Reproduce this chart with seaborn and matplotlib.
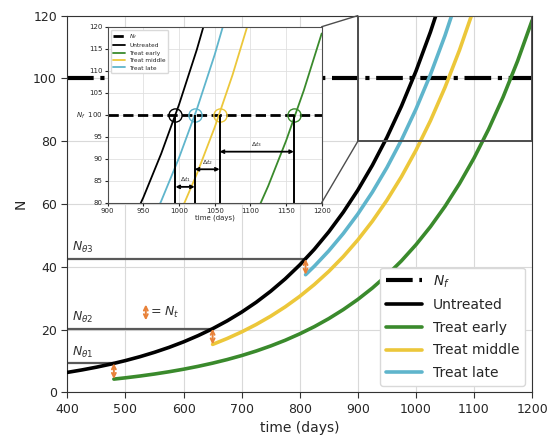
import numpy as np
import pandas as pd
import matplotlib
matplotlib.use("Agg")
import matplotlib.pyplot as plt
import seaborn as sns
from matplotlib.patches import Rectangle, ConnectionPatch

# ---------------- data ----------------
t_untreated = [400, 425, 450, 475, 500, 525, 550, 575, 600, 625, 650, 675, 700,
               725, 750, 775, 800, 825, 850, 875, 900, 925, 950, 975, 1000, 1025, 1050]
N_untreated = [6.40, 7.18, 8.06, 9.05, 10.16, 11.40, 12.80, 14.36, 16.12, 18.10, 20.31,
               22.80, 25.59, 28.72, 32.24, 36.18, 40.61, 45.58, 51.16, 57.42, 64.45,
               72.34, 81.20, 91.14, 102.29, 114.81, 128.87]

t_early = [480, 500, 525, 550, 575, 600, 625, 650, 675, 700, 725, 750, 775, 800, 825,
           850, 875, 900, 925, 950, 975, 1000, 1025, 1050, 1075, 1100, 1125, 1150, 1175, 1200]
N_early = [4.26, 4.67, 5.24, 5.88, 6.60, 7.41, 8.32, 9.34, 10.48, 11.76, 13.20, 14.82,
           16.63, 18.67, 20.95, 23.52, 26.40, 29.63, 33.26, 37.33, 41.90, 47.03, 52.79,
           59.25, 66.50, 74.64, 83.78, 94.03, 105.54, 118.46]

t_middle = [650, 675, 700, 725, 750, 775, 800, 825, 850, 875, 900, 925, 950, 975, 1000,
            1025, 1050, 1075, 1100]
N_middle = [15.31, 17.18, 19.29, 21.65, 24.30, 27.27, 30.61, 34.36, 38.56, 43.28, 48.58,
            54.53, 61.20, 68.69, 77.10, 86.54, 97.13, 109.02, 122.37]

t_late = [810, 825, 850, 875, 900, 925, 950, 975, 1000, 1025, 1050, 1075]
N_late = [37.5, 40.19, 45.11, 50.63, 56.83, 63.79, 71.60, 80.36, 90.20, 101.24, 113.63, 127.54]

N_f = 100
t_treat = [480, 650, 810]              # treatment times
N_theta = [9.3, 20.3, 42.5]            # thresholds at treatment
N_t = 5                                # cells removed by a treatment
theta_labels = [r"$N_{\theta1}$", r"$N_{\theta2}$", r"$N_{\theta3}$"]

t_cross = [995, 1022, 1057, 1161]      # crossing of N_f: untreated, late, middle, early
dt_labels = [r"$\Delta t_1$", r"$\Delta t_2$", r"$\Delta t_3$"]
dt_levels = [83.6, 87.6, 91.6]

inset_xlim = [900, 1200]
inset_ylim = [80, 120]

names = ["Untreated", "Treat early", "Treat middle", "Treat late"]
colors = ["black", "#3a8a2c", "#ecc73a", "#5fb5cc"]
orange = "#e8823a"

df = pd.concat([
    pd.DataFrame({"t": t_untreated, "N": N_untreated, "case": "Untreated"}),
    pd.DataFrame({"t": t_early, "N": N_early, "case": "Treat early"}),
    pd.DataFrame({"t": t_middle, "N": N_middle, "case": "Treat middle"}),
    pd.DataFrame({"t": t_late, "N": N_late, "case": "Treat late"}),
])

# ---------------- style ----------------
sns.set_style("whitegrid", {"axes.edgecolor": "0.2", "grid.color": "0.85",
                            "xtick.bottom": True, "ytick.left": True})
plt.rcParams["font.family"] = ["DejaVu Sans"]

fig = plt.figure(figsize=(5.48, 4.46), dpi=100)
ax = fig.add_axes([0.123, 0.120, 0.848, 0.845])

ax.axhline(N_f, color="black", ls="-.", lw=3, label="$N_f$", zorder=2)
order = ["Treat early", "Treat middle", "Treat late", "Untreated"]
for nm in order:
    c = colors[names.index(nm)]
    sub = df[df["case"] == nm]
    sns.lineplot(data=sub, x="t", y="N", ax=ax, color=c, lw=2.6, label=nm,
                 zorder=4 if nm == "Untreated" else 3, sort=True)

# thresholds and treatment arrows
for tt, nth, lab in zip(t_treat, N_theta, theta_labels):
    ax.hlines(nth, 400, tt, color="0.35", lw=1.6, zorder=2)
    ax.text(408, nth + 1.2, lab, fontsize=9, color="0.2", va="bottom")
    ax.annotate("", xy=(tt, nth - N_t), xytext=(tt, nth),
                arrowprops=dict(arrowstyle="<->", color=orange, lw=1.4,
                                mutation_scale=7, shrinkA=0, shrinkB=0), zorder=5)

# key for arrow
ax.annotate("", xy=(535, 23), xytext=(535, 23 + N_t),
            arrowprops=dict(arrowstyle="<->", color=orange, lw=1.4,
                            mutation_scale=7, shrinkA=0, shrinkB=0))
ax.text(543, 25.5, r"= $N_t$", fontsize=9, va="center", color="0.2")

ax.set_xlim(400, 1200)
ax.set_ylim(0, 120)
ax.set_xticks(range(400, 1201, 100))
ax.set_yticks(range(0, 121, 20))
ax.tick_params(labelsize=9, length=4, color="0.2")
ax.set_xlabel("time (days)", fontsize=10)
ax.set_ylabel("N", fontsize=10)

h, l = ax.get_legend_handles_labels()
want = ["$N_f$", "Untreated", "Treat early", "Treat middle", "Treat late"]
hh = [h[l.index(w)] for w in want]
ax.legend(hh, want, loc="lower right", fontsize=10, handlelength=2.6,
          frameon=True, framealpha=1, edgecolor="0.85", borderaxespad=0.5,
          labelspacing=0.62)

# zoom rectangle
ax.add_patch(Rectangle((inset_xlim[0], inset_ylim[0]), inset_xlim[1] - inset_xlim[0],
                       inset_ylim[1] - inset_ylim[0], fill=False, ec="0.3", lw=1.4, zorder=6))

# ---------------- inset ----------------
axin = fig.add_axes([0.1965, 0.5455, 0.3905, 0.3946])
axin.set_facecolor("white")
axin.axhline(N_f, color="black", ls="--", lw=2, label="$N_f$")
for nm in ["Untreated", "Treat early", "Treat middle", "Treat late"]:
    c = colors[names.index(nm)]
    sub = df[df["case"] == nm]
    sns.lineplot(data=sub, x="t", y="N", ax=axin, color=c, lw=1.3, label=nm)

circ_colors = ["black", "#5fb5cc", "#ecc73a", "#3a8a2c"]
for tc, cc in zip(t_cross, circ_colors):
    axin.plot([tc], [N_f], marker="o", ms=9.5, mfc="none", mec=cc, mew=1.0)
    axin.vlines(tc, inset_ylim[0], N_f, color="black", lw=1.4)
for a, b, yl, lab in zip(t_cross[:-1], t_cross[1:], dt_levels, dt_labels):
    axin.annotate("", xy=(a, yl), xytext=(b, yl),
                  arrowprops=dict(arrowstyle="<->", color="black", lw=1.3,
                                  mutation_scale=5, shrinkA=0, shrinkB=0))
    axin.text((a + b) / 2, yl + 0.6, lab, fontsize=4.5, ha="center", va="bottom")

axin.set_xlim(*inset_xlim)
axin.set_ylim(*inset_ylim)
axin.set_xticks(range(900, 1201, 50))
yt = list(range(80, 121, 5))
axin.set_yticks(yt)
axin.set_yticklabels([("$N_f$  " + str(v)) if v == N_f else str(v) for v in yt])
axin.tick_params(labelsize=5, length=2, pad=1.5)
axin.set_xlabel("time (days)", fontsize=5, labelpad=1)
axin.set_ylabel("")
axin.grid(True, color="0.88", lw=0.6)
for s in axin.spines.values():
    s.set_color("0.3")
axin.legend(loc="upper left", fontsize=4.2, handlelength=2, frameon=True,
            framealpha=1, edgecolor="0.85", borderpad=0.4, labelspacing=0.4)

for xa, ya in [((1, 1), inset_ylim[1]), ((1, 0), inset_ylim[0])]:
    cp = ConnectionPatch(xyA=xa, coordsA=axin.transAxes,
                         xyB=(inset_xlim[0], ya), coordsB=ax.transData,
                         color="0.3", lw=1.0)
    fig.add_artist(cp)

fig.savefig("out.png", dpi=100)
